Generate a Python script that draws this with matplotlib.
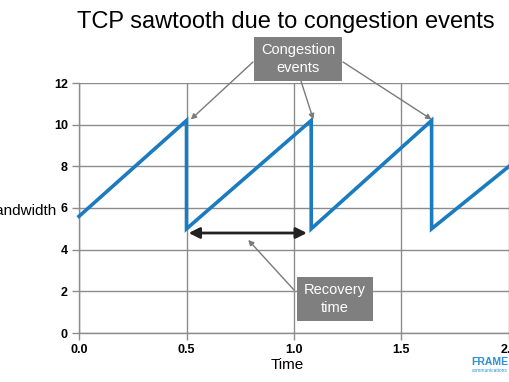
import matplotlib
matplotlib.use("Agg")
import matplotlib.pyplot as plt

# Data (sawtooth)
time_pts = [0.0, 0.5, 0.5, 1.08, 1.08, 1.64, 1.64, 2.0]
bandwidth = [5.6, 10.2, 5.0, 10.2, 5.0, 10.2, 5.0, 8.0]
xticks = [0.0, 0.5, 1.0, 1.5, 2.0]
yticks = [0, 2, 4, 6, 8, 10, 12]
peaks_x = [0.52, 1.09, 1.64]
peaks_y = [10.25, 10.25, 10.25]
recovery_start = 0.51
recovery_end = 1.06
recovery_y = 4.8

plt.rcParams['font.family'] = ['Liberation Sans', 'DejaVu Sans']

W, H = 510, 382
fig = plt.figure(figsize=(W / 100, H / 100), dpi=100)
ax = fig.add_axes([79 / W, 49 / H, 430 / W, 250 / H])

grid_c = '#8c8c8c'
ax.plot(time_pts, bandwidth, color='#1b7bc1', lw=2.6, solid_joinstyle='miter', zorder=3, clip_on=False)
ax.set_xlim(0, 2.0)
ax.set_ylim(0, 12)
ax.set_xticks(xticks)
ax.set_yticks(yticks)
ax.set_xticklabels([f"{v:.1f}" for v in xticks], fontweight='bold', fontsize=9)
ax.set_yticklabels([str(v) for v in yticks], fontweight='bold', fontsize=9)
ax.grid(True, color=grid_c, lw=1.0)
ax.set_axisbelow(True)
for s in ['top', 'right']:
    ax.spines[s].set_visible(False)
for s in ['left', 'bottom']:
    ax.spines[s].set_color(grid_c)
    ax.spines[s].set_linewidth(1.0)
ax.tick_params(axis='both', color=grid_c, length=5, width=1.0, pad=3)

# labels
fig.text(287 / W, 1 - 365 / H, 'Time', ha='center', va='center', fontsize=11)
fig.text(57 / W, 1 - 211 / H, 'Bandwidth', ha='right', va='center', fontsize=11)
fig.text(286 / W, 1 - 22 / H, 'TCP sawtooth due to congestion events', ha='center', va='center', fontsize=17)

# double arrow for recovery time
ax.annotate('', xy=(recovery_start, recovery_y), xytext=(recovery_end, recovery_y),
            arrowprops=dict(arrowstyle='<|-|>', color='#222222', lw=2.0, mutation_scale=16,
                            shrinkA=0, shrinkB=0), zorder=4)

box_c = '#7f7f7f'
# Congestion events box
fig.text(298 / W, 1 - 59 / H, 'Congestion\nevents', ha='center', va='center', fontsize=10.5,
         color='white', linespacing=1.3,
         bbox=dict(boxstyle='square,pad=0.45', fc=box_c, ec='none'), zorder=5)
starts = [(253, 62), (300, 78), (343, 62)]
for (sx, sy), px, py in zip(starts, peaks_x, peaks_y):
    ax.annotate('', xy=(px, py), xytext=(sx, H - sy), textcoords='figure pixels',
                arrowprops=dict(arrowstyle='-|>', color='#7a7a7a', lw=1.0, mutation_scale=8,
                                shrinkA=0, shrinkB=0), annotation_clip=False)

# Recovery time box
fig.text(335 / W, 1 - 299 / H, 'Recovery\ntime', ha='center', va='center', fontsize=10.5,
         color='white', linespacing=1.3,
         bbox=dict(boxstyle='square,pad=0.45', fc=box_c, ec='none'), zorder=5)
ax.annotate('', xy=(0.787, 4.47), xytext=(294, H - 290), textcoords='figure pixels',
            arrowprops=dict(arrowstyle='-|>', color='#7a7a7a', lw=1.0, mutation_scale=8,
                            shrinkA=0, shrinkB=0), annotation_clip=False)

# logo
fig.text(508 / W, 1 - 362 / H, 'FRAME', ha='right', va='center', fontsize=7.5,
         fontweight='bold', color='#2a8fd6')
fig.text(508 / W, 1 - 371 / H, 'communications', ha='right', va='center', fontsize=3.5,
         color='#2a8fd6')

fig.savefig('out.png', dpi=100)
